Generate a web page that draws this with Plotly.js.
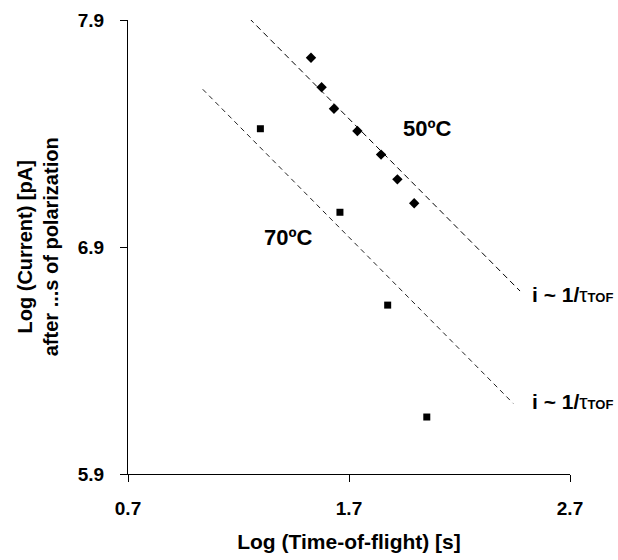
<!DOCTYPE html>
<html>
<head>
<meta charset="utf-8">
<script src="https://cdn.plot.ly/plotly-3.0.1.min.js"></script>
<style>html,body{margin:0;padding:0;background:#fff;}#chart{width:618px;height:560px;}</style>
</head>
<body>
<div id="chart"></div>
<script>
// 50 °C data (diamonds)
var x50 = [1.528, 1.576, 1.632, 1.738, 1.845, 1.919, 1.995];
var y50 = [7.734, 7.604, 7.509, 7.411, 7.307, 7.198, 7.093];
// 70 °C data (squares)
var x70 = [1.299, 1.659, 1.875, 2.052];
var y70 = [7.421, 7.053, 6.644, 6.151];
// i ~ 1/tau_TOF guide lines
var fit50x = [1.249, 2.474];
var fit50y = [7.907, 6.706];
var fit70x = [1.038, 2.443];
var fit70y = [7.595, 6.211];
// ticks
var xTicks = [0.7, 1.7, 2.7];
var yTicks = [5.9, 6.9, 7.9];

var F = "Liberation Sans, Arial, sans-serif";

var traces = [
  {x: fit50x, y: fit50y, mode: "lines", line: {color: "#000", width: 1, dash: "6px,4px"}, hoverinfo: "skip"},
  {x: fit70x, y: fit70y, mode: "lines", line: {color: "#222", width: 1, dash: "5px,4px"}, hoverinfo: "skip"},
  {x: x50, y: y50, mode: "markers", marker: {symbol: "diamond", size: 8, color: "#000"}},
  {x: x70, y: y70, mode: "markers", marker: {symbol: "square", size: 7, color: "#000"}}
];

var tauLabel = "<b>i ~ 1/</b>τ<span style=\"font-size:13px\"><b>TOF</b></span>";

function fmt(v){ return "<b>" + v.toFixed(1) + "</b>"; }

var tickF = {family: F, size: 19, color: "#000"};

var layout = {
  width: 618, height: 560,
  margin: {l: 128, r: 48, t: 20, b: 86},
  showlegend: false,
  font: {family: F, color: "#000"},
  xaxis: {
    range: [0.7, 2.7], tickvals: xTicks, ticktext: xTicks.map(fmt),
    showgrid: false, zeroline: false, showline: true, linecolor: "#000", linewidth: 1,
    ticks: "outside", ticklen: 7, tickcolor: "#000", ticklabelstandoff: 10,
    tickfont: tickF,
    title: {text: "<b>Log (Time-of-flight) [s]</b>", font: {family: F, size: 21, color: "#000"}, standoff: 16}
  },
  yaxis: {
    range: [5.9, 7.9], tickvals: yTicks, ticktext: yTicks.map(fmt),
    showgrid: false, zeroline: false, showline: true, linecolor: "#000", linewidth: 1,
    ticks: "outside", ticklen: 7, tickcolor: "#000", ticklabelstandoff: 12,
    tickfont: tickF
  }
};

var annotations = [
  {xref: "paper", yref: "paper", x: -0.203, y: 0.5, xanchor: "center", yanchor: "middle",
   textangle: -90, showarrow: false,
   text: "<b>Log (Current) [pA]<br>after ...s of polarization</b>",
   font: {family: F, size: 20, color: "#000"}},
  {x: 2.053, y: 7.424, showarrow: false, text: "<b>50ºC</b>", font: {family: F, size: 22, color: "#000"}},
  {x: 1.428, y: 6.944, showarrow: false, text: "<b>70ºC</b>", font: {family: F, size: 22, color: "#000"}},
  {x: 2.519, y: 6.689, xanchor: "left", showarrow: false, text: tauLabel, font: {family: F, size: 21, color: "#000"}},
  {x: 2.519, y: 6.218, xanchor: "left", showarrow: false, text: tauLabel, font: {family: F, size: 21, color: "#000"}}
];

Plotly.newPlot("chart", traces, layout, {displayModeBar: false, staticPlot: true}).then(function(gd){
  return Plotly.relayout(gd, {annotations: annotations});
});
</script>
</body>
</html>
